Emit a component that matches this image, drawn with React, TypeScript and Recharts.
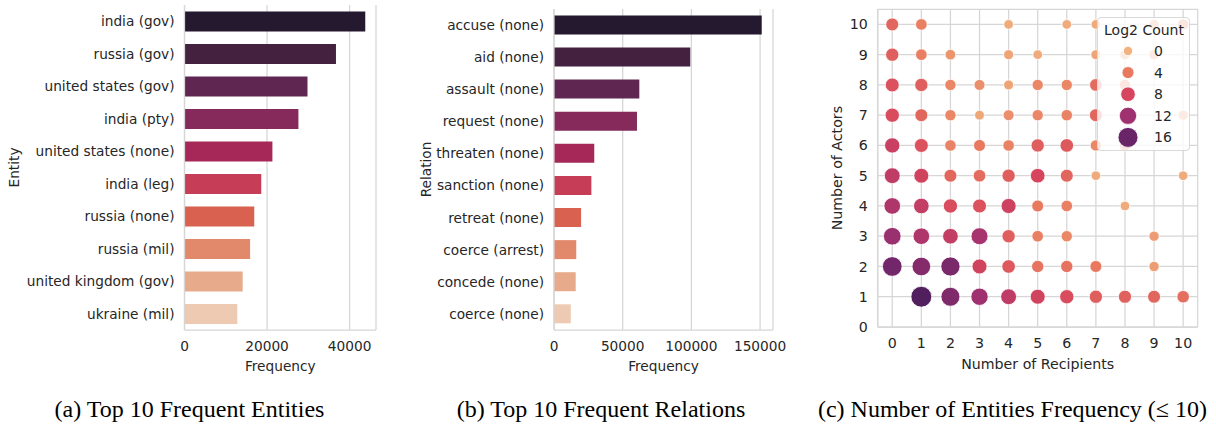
import React from 'react';
import {
  BarChart,
  Bar,
  Cell,
  XAxis,
  YAxis,
  CartesianGrid,
  ScatterChart,
  Scatter,
  Legend,
} from 'recharts';

// ---------- data ----------
const entityNames = [
  'india (gov)',
  'russia (gov)',
  'united states (gov)',
  'india (pty)',
  'united states (none)',
  'india (leg)',
  'russia (none)',
  'russia (mil)',
  'united kingdom (gov)',
  'ukraine (mil)',
];
const entityFrequency = [43800, 36700, 29800, 27600, 21300, 18600, 16900, 15900, 14100, 12800];
const entityTicks = [0, 20000, 40000];

const relationNames = [
  'accuse (none)',
  'aid (none)',
  'assault (none)',
  'request (none)',
  'threaten (none)',
  'sanction (none)',
  'retreat (none)',
  'coerce (arrest)',
  'concede (none)',
  'coerce (none)',
];
const relationFrequency = [151200, 99200, 62100, 60400, 29300, 27200, 19700, 16200, 15800, 12200];
const relationTicks = [0, 50000, 100000, 150000];

const recipientTicks = [0, 1, 2, 3, 4, 5, 6, 7, 8, 9, 10];
const actorTicks = [0, 1, 2, 3, 4, 5, 6, 7, 8, 9, 10];
const legendValues = [0, 4, 8, 12, 16];

// Log2 count per (actors, recipients); index in each list = number of recipients 0..10
const actors1 = [null, 17.3, 14.5, 12, 9.8, 8.5, 7.5, 6, 5.8, 5.5, 4.8];
const actors2 = [15.5, 14, 14.8, 8.5, 6.5, 4.5, 4.5, 4, null, 1.5, null];
const actors3 = [12.5, 11, 9.5, 11.5, 6, 3.5, 3, null, null, 1.5, null];
const actors4 = [11, 9.5, 7.5, 7, 8.7, 4, 3.5, null, 0.5, null, null];
const actors5 = [9.8, 8.5, 5.5, 5, 6, 8, 5.5, 0.5, null, null, 0.5];
const actors6 = [9, 7, 3.3, 4, 3.3, 6, 6.5, 3, 3, null, null];
const actors7 = [7.5, 5.5, 3, 0.8, 2.5, 3, 3.3, 5.5, null, null, 1.5];
const actors8 = [7, 6, 3, 2.5, 1, 3, 3, 5, 3, null, null];
const actors9 = [6, 3.5, 2, null, 1, 0.5, null, 1, 1.5, 1.5, null];
const actors10 = [5.5, 3.5, null, null, 0.5, null, 0.5, 0.5, null, 1.5, 3];
const actorRows = [actors1, actors2, actors3, actors4, actors5, actors6, actors7, actors8, actors9, actors10];

// ---------- styles ----------
const barPalette = [
  '#25192f', '#43213f', '#5e2650', '#852a5a', '#a52859',
  '#c53d56', '#d9614f', '#e1896a', '#e7ab8b', '#eecab3',
];
const flareStops: [number, string][] = [
  [0, '#f0b27f'],
  [4, '#e8795f'],
  [8, '#d6455d'],
  [12, '#a03170'],
  [16, '#6a2568'],
  [18, '#441b59'],
];
const FONT = 'DejaVu Sans';
const TEXT = '#262626';
const GRID = '#d6d6d6';

function hex2rgb(h: string) {
  return [parseInt(h.slice(1, 3), 16), parseInt(h.slice(3, 5), 16), parseInt(h.slice(5, 7), 16)];
}
function hueColor(z: number) {
  for (let i = 0; i < flareStops.length - 1; i++) {
    const [z0, c0] = flareStops[i];
    const [z1, c1] = flareStops[i + 1];
    if (z <= z1 || i === flareStops.length - 2) {
      const t = Math.max(0, Math.min(1, (z - z0) / (z1 - z0)));
      const a = hex2rgb(c0);
      const b = hex2rgb(c1);
      const m = a.map((v, k) => Math.round(v + (b[k] - v) * t));
      return `rgb(${m[0]},${m[1]},${m[2]})`;
    }
  }
  return flareStops[0][1];
}
function sizeRadius(z: number) {
  return 4.65 + 0.334 * z;
}

const entityData = entityNames.map((name, i) => ({ name, value: entityFrequency[i] }));
const relationData = relationNames.map((name, i) => ({ name, value: relationFrequency[i] }));
const bubbleData: { x: number; y: number; z: number }[] = [];
actorRows.forEach((row, yi) => {
  row.forEach((z, x) => {
    if (z !== null) bubbleData.push({ x, y: yi + 1, z: z as number });
  });
});

const tickStyle = (size: number) => ({ fill: TEXT, fontSize: size, fontFamily: FONT });
const labelStyle = (size: number) => ({ fill: TEXT, fontSize: size, fontFamily: FONT });
const frameLine = { stroke: GRID, strokeWidth: 1.25 };

function FreqBars({
  data,
  ticks,
  domainMax,
  yWidth,
  rightMargin,
  topMargin,
  yLabel,
  yLabelOffset,
}: {
  data: { name: string; value: number }[];
  ticks: number[];
  domainMax: number;
  yWidth: number;
  rightMargin: number;
  topMargin: number;
  yLabel: string;
  yLabelOffset: number;
}) {
  return (
    <BarChart
      layout="vertical"
      width={400}
      height={426}
      data={data}
      margin={{ top: topMargin, right: rightMargin, bottom: 55, left: 0 }}
      barCategoryGap="20%"
    >
      <CartesianGrid horizontal={false} vertical stroke={GRID} strokeWidth={1.25} />
      <XAxis
        type="number"
        domain={[0, domainMax]}
        ticks={ticks}
        allowDataOverflow
        tickLine={false}
        tickSize={0}
        tickMargin={11}
        axisLine={frameLine}
        tick={tickStyle(13.7)}
        height={41}
        interval={0}
        label={{ value: 'Frequency', position: 'insideBottom', offset: 0, style: labelStyle(13.7) }}
      />
      <XAxis
        xAxisId="top"
        orientation="top"
        type="number"
        domain={[0, domainMax]}
        allowDataOverflow
        tick={false}
        tickLine={false}
        height={0}
        axisLine={frameLine}
      />
      <YAxis
        type="category"
        dataKey="name"
        width={yWidth}
        interval={0}
        tickLine={false}
        tickSize={0}
        tickMargin={10}
        axisLine={frameLine}
        tick={tickStyle(13.7)}
        label={{
          value: yLabel,
          angle: -90,
          position: 'insideLeft',
          offset: yLabelOffset,
          style: { ...labelStyle(13.7), textAnchor: 'middle' },
        }}
      />
      <YAxis
        yAxisId="right"
        orientation="right"
        type="category"
        dataKey="name"
        width={0}
        tick={false}
        tickLine={false}
        axisLine={frameLine}
      />
      <Bar dataKey="value" isAnimationActive={false}>
        {data.map((d, i) => (
          <Cell key={d.name} fill={barPalette[i]} />
        ))}
      </Bar>
    </BarChart>
  );
}

function LegendBox() {
  return (
    <div
      style={{
        width: 93,
        height: 134,
        boxSizing: 'border-box',
        border: '1px solid #d9d9d9',
        borderRadius: 4,
        background: 'rgba(255,255,255,0.8)',
      }}
    >
      <svg width={91} height={132} style={{ display: 'block' }}>
        <text x={46} y={17} textAnchor="middle" fontFamily={FONT} fontSize={14} fill={TEXT}>
          Log2 Count
        </text>
        {legendValues.map((v, i) => (
          <g key={v}>
            <circle cx={30} cy={33 + i * 21.6} r={sizeRadius(v)} fill={hueColor(v)} stroke="#fff" strokeWidth={0.8} />
            <text
              x={56}
              y={33 + i * 21.6}
              dominantBaseline="central"
              fontFamily={FONT}
              fontSize={14}
              fill={TEXT}
            >
              {v}
            </text>
          </g>
        ))}
      </svg>
    </div>
  );
}

function BubbleShape(props: any) {
  const { cx, cy, payload } = props;
  if (cx == null || cy == null) return null;
  return <circle cx={cx} cy={cy} r={sizeRadius(payload.z)} fill={hueColor(payload.z)} stroke="#fff" strokeWidth={0.8} />;
}

function Bubbles() {
  return (
    <ScatterChart width={386} height={426} margin={{ top: 9.3, right: 18.3, bottom: 57, left: 0 }}>
      <CartesianGrid stroke={GRID} strokeWidth={1.25} />
      <XAxis
        type="number"
        dataKey="x"
        domain={[-0.5, 10.5]}
        ticks={recipientTicks}
        allowDataOverflow
        interval={0}
        tickLine={false}
        tickSize={0}
        tickMargin={11}
        axisLine={frameLine}
        tick={tickStyle(14.2)}
        height={42}
        label={{ value: 'Number of Recipients', position: 'insideBottom', offset: 0, style: labelStyle(14.2) }}
      />
      <XAxis
        xAxisId="top"
        orientation="top"
        type="number"
        domain={[-0.5, 10.5]}
        allowDataOverflow
        tick={false}
        tickLine={false}
        height={0}
        axisLine={frameLine}
      />
      <YAxis
        type="number"
        dataKey="y"
        domain={[0, 10.5]}
        ticks={actorTicks}
        allowDataOverflow
        interval={0}
        tickLine={false}
        tickSize={0}
        tickMargin={10}
        axisLine={frameLine}
        tick={tickStyle(14.2)}
        width={47.7}
        label={{
          value: 'Number of Actors',
          angle: -90,
          position: 'insideLeft',
          offset: 7,
          style: { ...labelStyle(14.2), textAnchor: 'middle' },
        }}
      />
      <YAxis
        yAxisId="right"
        orientation="right"
        type="number"
        domain={[0, 10.5]}
        allowDataOverflow
        width={0}
        tick={false}
        tickLine={false}
        axisLine={frameLine}
      />
      <Scatter data={bubbleData} isAnimationActive={false} shape={BubbleShape} />
      <Legend
        layout="vertical"
        align="center"
        verticalAlign="middle"
        wrapperStyle={{ left: 266.7, top: 17.3, width: 93, height: 134 }}
        content={() => <LegendBox />}
      />
    </ScatterChart>
  );
}

export default function App() {
  return (
    <div
      style={{
        position: 'absolute',
        left: 0,
        top: 0,
        width: 1216,
        height: 426,
        background: '#ffffff',
        overflow: 'hidden',
      }}
    >
      <div style={{ position: 'absolute', left: 0, top: 0 }}>
        <FreqBars
          data={entityData}
          ticks={entityTicks}
          domainMax={46400}
          yWidth={184.5}
          rightMargin={24}
          topMargin={5}
          yLabel="Entity"
          yLabelOffset={14}
        />
      </div>
      <div style={{ position: 'absolute', left: 400, top: 0 }}>
        <FreqBars
          data={relationData}
          ticks={relationTicks}
          domainMax={159400}
          yWidth={154}
          rightMargin={27}
          topMargin={9}
          yLabel="Relation"
          yLabelOffset={26}
        />
      </div>
      <div style={{ position: 'absolute', left: 830, top: 0 }}>
        <Bubbles />
      </div>
      <svg
        width={1216}
        height={426}
        style={{ position: 'absolute', left: 0, top: 0, pointerEvents: 'none' }}
      >
        <g fontFamily="Liberation Serif" fontSize={24} fill="#000">
          <text x={189.5} y={417} textAnchor="middle">(a) Top 10 Frequent Entities</text>
          <text x={601} y={417} textAnchor="middle">(b) Top 10 Frequent Relations</text>
          <text x={1012.5} y={417} textAnchor="middle">(c) Number of Entities Frequency (≤ 10)</text>
        </g>
      </svg>
    </div>
  );
}
